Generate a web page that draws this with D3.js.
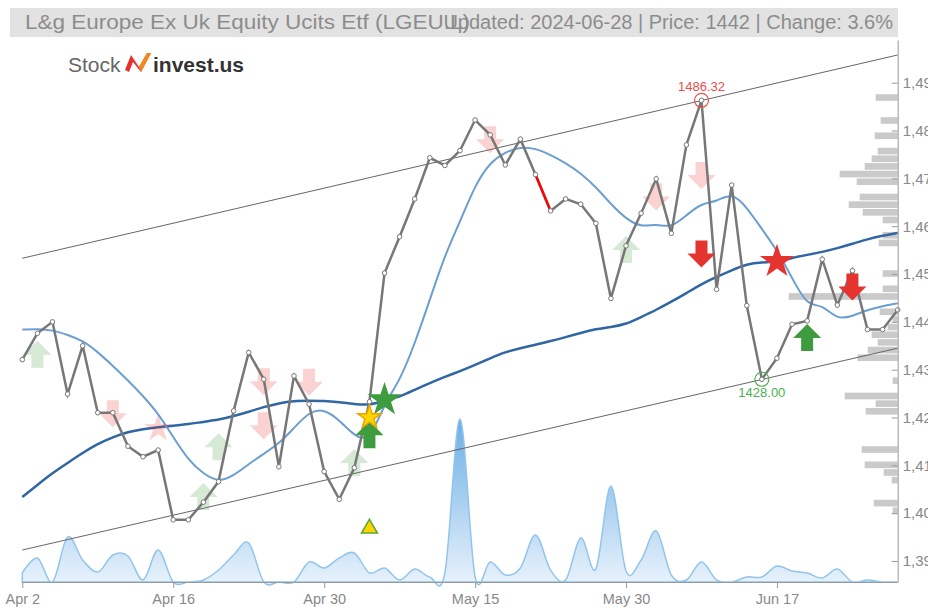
<!DOCTYPE html>
<html>
<head>
<meta charset="utf-8">
<script src="https://cdn.jsdelivr.net/npm/d3@7"></script>
<style>
  body { margin: 0; background: #fff; }
  svg { display: block; font-family: "Liberation Sans", Arial, sans-serif; }
  .axis text { fill: #888; }
  .axis path, .axis line { stroke: #999; }
</style>
</head>
<body>
<div class="chart"></div>
<script>
// Data.
const dates = [
  '2024-04-02','2024-04-03','2024-04-04','2024-04-05','2024-04-08','2024-04-09','2024-04-10','2024-04-11','2024-04-12','2024-04-15',
  '2024-04-16','2024-04-17','2024-04-18','2024-04-19','2024-04-22','2024-04-23','2024-04-24','2024-04-25','2024-04-26','2024-04-29',
  '2024-04-30','2024-05-01','2024-05-02','2024-05-03','2024-05-07','2024-05-08','2024-05-09','2024-05-10','2024-05-13','2024-05-14',
  '2024-05-15','2024-05-16','2024-05-17','2024-05-20','2024-05-21','2024-05-22','2024-05-23','2024-05-24','2024-05-28','2024-05-29',
  '2024-05-30','2024-05-31','2024-06-04','2024-06-05','2024-06-06','2024-06-07','2024-06-11','2024-06-12','2024-06-13','2024-06-14',
  '2024-06-17','2024-06-18','2024-06-20','2024-06-21','2024-06-24','2024-06-25','2024-06-26','2024-06-27','2024-06-28'
];

const closes = [
  1432.1, 1437.6, 1440.0, 1424.9, 1435.0, 1421.0, 1421.0, 1414.0, 1411.8, 1413.2,
  1398.6, 1398.6, 1402.3, 1406.6, 1421.4, 1433.6, 1428.0, 1409.7, 1428.7, 1422.8,
  1408.7, 1402.9, 1409.5, 1423.3, 1450.2, 1457.8, 1465.7, 1474.3, 1472.7, 1475.8,
  1482.2, 1479.1, 1472.8, 1478.2, 1470.8, 1463.2, 1465.7, 1464.6, 1460.6, 1444.9,
  1455.9, 1462.7, 1469.9, 1458.5, 1477.0, 1486.32, 1446.8, 1468.6, 1443.4, 1428.0,
  1432.4, 1439.5, 1440.2, 1453.1, 1443.5, 1450.7, 1438.4, 1438.4, 1442.5
];

const maShort = [
  1438.4, 1438.5, 1438.3, 1437.3, 1436.1, 1433.7, 1430.8, 1427.8, 1424.5, 1420.9,
  1415.9, 1411.1, 1408.2, 1406.5, 1407.8, 1410.3, 1412.4, 1414.5, 1417.8, 1421.2,
  1421.8, 1419.5, 1416.1, 1414.9, 1423.0, 1427.6, 1435.4, 1444.6, 1454.0, 1460.9,
  1468.6, 1473.4, 1475.5, 1476.6, 1476.3, 1474.9, 1473.2, 1471.1, 1468.2, 1464.6,
  1461.5, 1459.8, 1460.5, 1459.6, 1462.3, 1464.8, 1465.1, 1467.1, 1464.0, 1459.4,
  1455.0, 1449.2, 1443.3, 1443.7, 1440.4, 1441.2, 1442.5, 1443.3, 1443.9
];

const maLong = [
  1403.4, 1405.9, 1408.4, 1410.5, 1412.6, 1414.5, 1415.9, 1417.0, 1417.6, 1418.0,
  1418.3, 1418.6, 1419.1, 1419.5, 1420.3, 1421.2, 1422.2, 1423.0, 1423.5, 1423.5,
  1423.5, 1423.2, 1422.8, 1422.6, 1423.5, 1424.3, 1425.8, 1427.2, 1428.5, 1429.7,
  1431.0, 1432.4, 1433.7, 1434.5, 1435.2, 1436.0, 1436.8, 1437.7, 1438.5, 1438.9,
  1439.5, 1441.0, 1442.5, 1444.2, 1446.0, 1447.9, 1449.4, 1450.8, 1452.1, 1452.5,
  1452.5, 1453.4, 1454.0, 1454.6, 1455.4, 1456.3, 1457.3, 1458.0, 1458.6
];

const volumes = [
  9, 24, 0, 45, 22, 10, 27, 26, 2, 32,
  0, 0, 2, 12, 27, 39, 0, 0, 0, 20,
  14, 24, 29, 9, 14, 2, 13, 5, 9, 163,
  5, 20, 7, 14, 47, 12, 2, 44, 13, 96,
  11, 22, 51, 7, 2, 20, 2, 0, 5, 5,
  16, 11, 9, 4, 13, 0, 2, 0, 0
];

// Volume by price: bin lower price and volume.
const histPrices = [1399.6, 1401.2, 1406.0, 1407.6, 1409.2, 1412.4, 1420.4, 1422.0, 1423.6, 1426.8,
  1431.6, 1433.2, 1434.8, 1436.4, 1438.0, 1439.6, 1441.2, 1444.4, 1446.0, 1449.2,
  1455.6, 1457.2, 1460.4, 1462.0, 1463.6, 1465.2, 1468.4, 1470.0, 1471.6, 1473.2,
  1474.8, 1478.0, 1481.2, 1486.0];
const histVolumes = [5, 24, 6, 14, 33, 36, 32, 22, 53, 5,
  40, 30, 20, 26, 10, 5, 18, 109, 15, 15,
  19, 15, 15, 35, 49, 38, 41, 58, 33, 26,
  20, 23, 17, 22];
const histBinSize = 1.6;

// Trend channel: price at first and last date.
const channelUpper = [1453.3, 1495.8];
const channelLower = [1392.3, 1434.5];

const tickDates = ['2024-04-02','2024-04-16','2024-04-30','2024-05-15','2024-05-30','2024-06-17'];
const priceTicks = [1390, 1400, 1410, 1420, 1430, 1440, 1450, 1460, 1470, 1480, 1490];

// Signals: [date, price, type, faded]
const signals = [
  ['2024-04-03', 1433.1, 'up', true],
  ['2024-04-18', 1403.4, 'up', true],
  ['2024-04-19', 1413.8, 'up', true],
  ['2024-05-02', 1410.5, 'up', true],
  ['2024-05-30', 1455.0, 'up', true],
  ['2024-04-10', 1420.9, 'down', true],
  ['2024-04-15', 1417.7, 'fadedstar', true],
  ['2024-04-24', 1427.6, 'down', true],
  ['2024-04-24', 1418.4, 'down', true],
  ['2024-04-29', 1427.5, 'down', true],
  ['2024-05-16', 1478.2, 'down', true],
  ['2024-06-04', 1466.2, 'down', true],
  ['2024-06-07', 1470.7, 'down', true],
  ['2024-05-03', 1416.3, 'up', false],
  ['2024-06-20', 1436.6, 'up', false],
  ['2024-05-07', 1423.7, 'greenstar', false],
  ['2024-05-03', 1420.0, 'yellowstar', false],
  ['2024-05-03', 1396.8, 'triangle', false],
  ['2024-06-07', 1454.3, 'down', false],
  ['2024-06-25', 1447.4, 'down', false],
  ['2024-06-17', 1452.6, 'redstar', false]
];

const redSegments = [['2024-05-21', '2024-05-22']];

// Marked high and low: [date, color, label offset]
const extremes = [['2024-06-07', '#e8504a', -9], ['2024-06-14', '#4caf50', 18]];

const title = 'L&g Europe Ex Uk Equity Ucits Etf (LGEU.L)';
const subtitle = 'Updated: 2024-06-28 | Price: 1442 | Change: 3.6%';

// Chart.
const W = 928, H = 608;
const plot = {left: 22.3, right: 897.7, top: 40, bottom: 582};

const svg = d3.select('.chart')
  .append('svg')
  .attr('width', W)
  .attr('height', H);

const xScale = d3.scalePoint()
  .domain(dates)
  .range([plot.left, plot.right]);

const yScale = d3.scaleLinear()
  .domain([1385.61, 1498.93])
  .range([plot.bottom, plot.top]);

const volScale = d3.scaleLinear()
  .domain([0, d3.max(volumes)])
  .range([plot.bottom, plot.bottom - 163]);

const histScale = d3.scaleLinear()
  .domain([0, d3.max(histVolumes)])
  .range([0, 109]);

// Gradient for the volume area.
const defs = svg.append('defs');
const grad = defs.append('linearGradient')
  .attr('id', 'volGrad')
  .attr('x1', 0).attr('y1', 0).attr('x2', 0).attr('y2', 1);
grad.append('stop').attr('offset', '0%').attr('stop-color', '#6aaee4');
grad.append('stop').attr('offset', '100%').attr('stop-color', '#eaf3fc');

// Title bar.
svg.append('rect')
  .attr('x', 10).attr('y', 8)
  .attr('width', 888).attr('height', 29)
  .style('fill', '#e2e2e2');

svg.append('text')
  .attr('x', 25).attr('y', 29)
  .attr('textLength', 445)
  .attr('lengthAdjust', 'spacingAndGlyphs')
  .style('font-size', '20px')
  .style('fill', '#8c8c8c')
  .text(title);

svg.append('text')
  .attr('x', 893).attr('y', 29)
  .attr('text-anchor', 'end')
  .style('font-size', '20px')
  .style('fill', '#8c8c8c')
  .text(subtitle);

// Logo.
const logo = svg.append('g').attr('transform', 'translate(68,72)');
logo.append('text')
  .attr('x', 0).attr('y', 0)
  .style('font-size', '21px')
  .style('fill', '#666')
  .text('Stock');
logo.append('path')
  .attr('d', 'M57,-2 L63,-17 L71,-5 L79,-19 L83,-19 L73,0 L65,-10 L61,0 Z')
  .style('fill', '#e8302c');
logo.append('path')
  .attr('d', 'M71,-5 L79,-19 L83,-19 L73,0 Z')
  .style('fill', '#f08a1c');
logo.append('text')
  .attr('x', 85).attr('y', 0)
  .style('font-size', '21px')
  .style('font-weight', 'bold')
  .style('fill', '#333')
  .text('invest.us');

// Volume by price histogram.
svg.append('g')
  .selectAll('rect')
  .data(histPrices.map((p, i) => ({price: p, vol: histVolumes[i]})))
  .join('rect')
  .attr('x', d => plot.right - histScale(d.vol))
  .attr('y', d => yScale(d.price + histBinSize))
  .attr('width', d => histScale(d.vol))
  .attr('height', d => yScale(d.price) - yScale(d.price + histBinSize) - 1)
  .style('fill', '#c4c4c4')
  .style('opacity', 0.9);

// Volume area.
const volArea = d3.area()
  .x((d, i) => xScale(dates[i]))
  .y0(plot.bottom)
  .y1(d => volScale(d))
  .curve(d3.curveCardinal);

svg.append('path')
  .datum(volumes)
  .attr('d', volArea)
  .style('fill', 'url(#volGrad)')
  .style('stroke', '#92c5ec')
  .style('stroke-width', 1.5);

// Trend channel.
const first = dates[0], last = dates[dates.length - 1];
[channelUpper, channelLower].forEach(c => {
  svg.append('line')
    .attr('x1', xScale(first)).attr('y1', yScale(c[0]))
    .attr('x2', xScale(last)).attr('y2', yScale(c[1]))
    .style('stroke', '#666')
    .style('stroke-width', 1);
});

// Moving averages.
const maLine = d3.line()
  .x((d, i) => xScale(dates[i]))
  .y(d => yScale(d))
  .curve(d3.curveBasis);

svg.append('path')
  .datum(maLong)
  .attr('d', maLine)
  .style('fill', 'none')
  .style('stroke', '#2f66a3')
  .style('stroke-width', 2.5);

svg.append('path')
  .datum(maShort)
  .attr('d', maLine)
  .style('fill', 'none')
  .style('stroke', '#6b9fd2')
  .style('stroke-width', 2);

// Signal shapes.
const arrowUp = 'M0,-14 L14,0 L6,0 L6,13 L-6,13 L-6,0 L-14,0 Z';
const arrowDown = 'M0,14 L14,0 L6,0 L6,-13 L-6,-13 L-6,0 L-14,0 Z';
const bigStar = d3.symbol(d3.symbolStar).size(360)();
const midStar = d3.symbol(d3.symbolStar).size(240)();
const smallStar = d3.symbol(d3.symbolStar).size(170)();
const triangle = d3.symbol(d3.symbolTriangle).size(110)();

const shapeOf = {
  up: {d: arrowUp, fill: '#3e9b3e', stroke: 'none'},
  down: {d: arrowDown, fill: '#e5332f', stroke: 'none'},
  fadedstar: {d: midStar, fill: '#e5332f', stroke: 'none'},
  redstar: {d: bigStar, fill: '#e5332f', stroke: 'none'},
  greenstar: {d: bigStar, fill: '#3e9b3e', stroke: 'none'},
  yellowstar: {d: smallStar, fill: '#ffd400', stroke: '#e8a800'},
  triangle: {d: triangle, fill: '#ffd400', stroke: '#5aa83a'}
};

const signalData = signals.map(s => ({date: s[0], price: s[1], type: s[2], faded: s[3]}));

function drawSignals(list) {
  svg.append('g')
    .selectAll('path')
    .data(list)
    .join('path')
    .attr('transform', d => `translate(${xScale(d.date)},${yScale(d.price)})`)
    .attr('d', d => shapeOf[d.type].d)
    .style('fill', d => shapeOf[d.type].fill)
    .style('stroke', d => shapeOf[d.type].stroke)
    .style('stroke-width', 1.5)
    .style('opacity', d => d.faded ? 0.22 : 1);
}

drawSignals(signalData.filter(d => d.faded));

// Price line.
const priceLine = d3.line()
  .x((d, i) => xScale(dates[i]))
  .y(d => yScale(d));

svg.append('path')
  .datum(closes)
  .attr('d', priceLine)
  .style('fill', 'none')
  .style('stroke', '#777')
  .style('stroke-width', 2.5);

redSegments.forEach(s => {
  const a = dates.indexOf(s[0]), b = dates.indexOf(s[1]);
  svg.append('line')
    .attr('x1', xScale(s[0])).attr('y1', yScale(closes[a]))
    .attr('x2', xScale(s[1])).attr('y2', yScale(closes[b]))
    .style('stroke', '#f00')
    .style('stroke-width', 2.5);
});

svg.append('g')
  .selectAll('circle')
  .data(closes)
  .join('circle')
  .attr('cx', (d, i) => xScale(dates[i]))
  .attr('cy', d => yScale(d))
  .attr('r', 2.3)
  .style('fill', '#fff')
  .style('stroke', '#777')
  .style('stroke-width', 1);

drawSignals(signalData.filter(d => !d.faded));

// Extremes.
extremes.forEach(([date, color, dy]) => {
  const v = closes[dates.indexOf(date)];
  svg.append('circle')
    .attr('cx', xScale(date))
    .attr('cy', yScale(v))
    .attr('r', 7)
    .style('fill', 'none')
    .style('stroke', color)
    .style('stroke-width', 1.2);
  svg.append('text')
    .attr('x', xScale(date))
    .attr('y', yScale(v) + dy)
    .attr('text-anchor', 'middle')
    .style('font-size', '13px')
    .style('fill', color)
    .text(v.toFixed(2));
});

// Axes.
const parseDay = d3.timeParse('%Y-%m-%d');
const xAxis = d3.axisBottom(xScale)
  .tickValues(tickDates)
  .tickFormat(d => d3.timeFormat('%b %-d')(parseDay(d)))
  .tickSizeInner(6)
  .tickSizeOuter(0);

const xAxisDraw = svg.append('g')
  .attr('class', 'axis')
  .attr('transform', `translate(0,${plot.bottom})`)
  .call(xAxis);
xAxisDraw.select('.domain').attr('d', `M${plot.left},0.5H${plot.right}`);
xAxisDraw.selectAll('text').style('font-size', '14.5px').attr('dy', '0.93em');

const yAxis = d3.axisRight(yScale)
  .tickValues(priceTicks)
  .tickFormat(d3.format(','))
  .tickSizeInner(-6)
  .tickSizeOuter(0)
  .tickPadding(5);

const yAxisDraw = svg.append('g')
  .attr('class', 'axis')
  .attr('transform', `translate(${plot.right},0)`)
  .call(yAxis);
yAxisDraw.selectAll('text').style('font-size', '15px');
</script>
</body>
</html>
